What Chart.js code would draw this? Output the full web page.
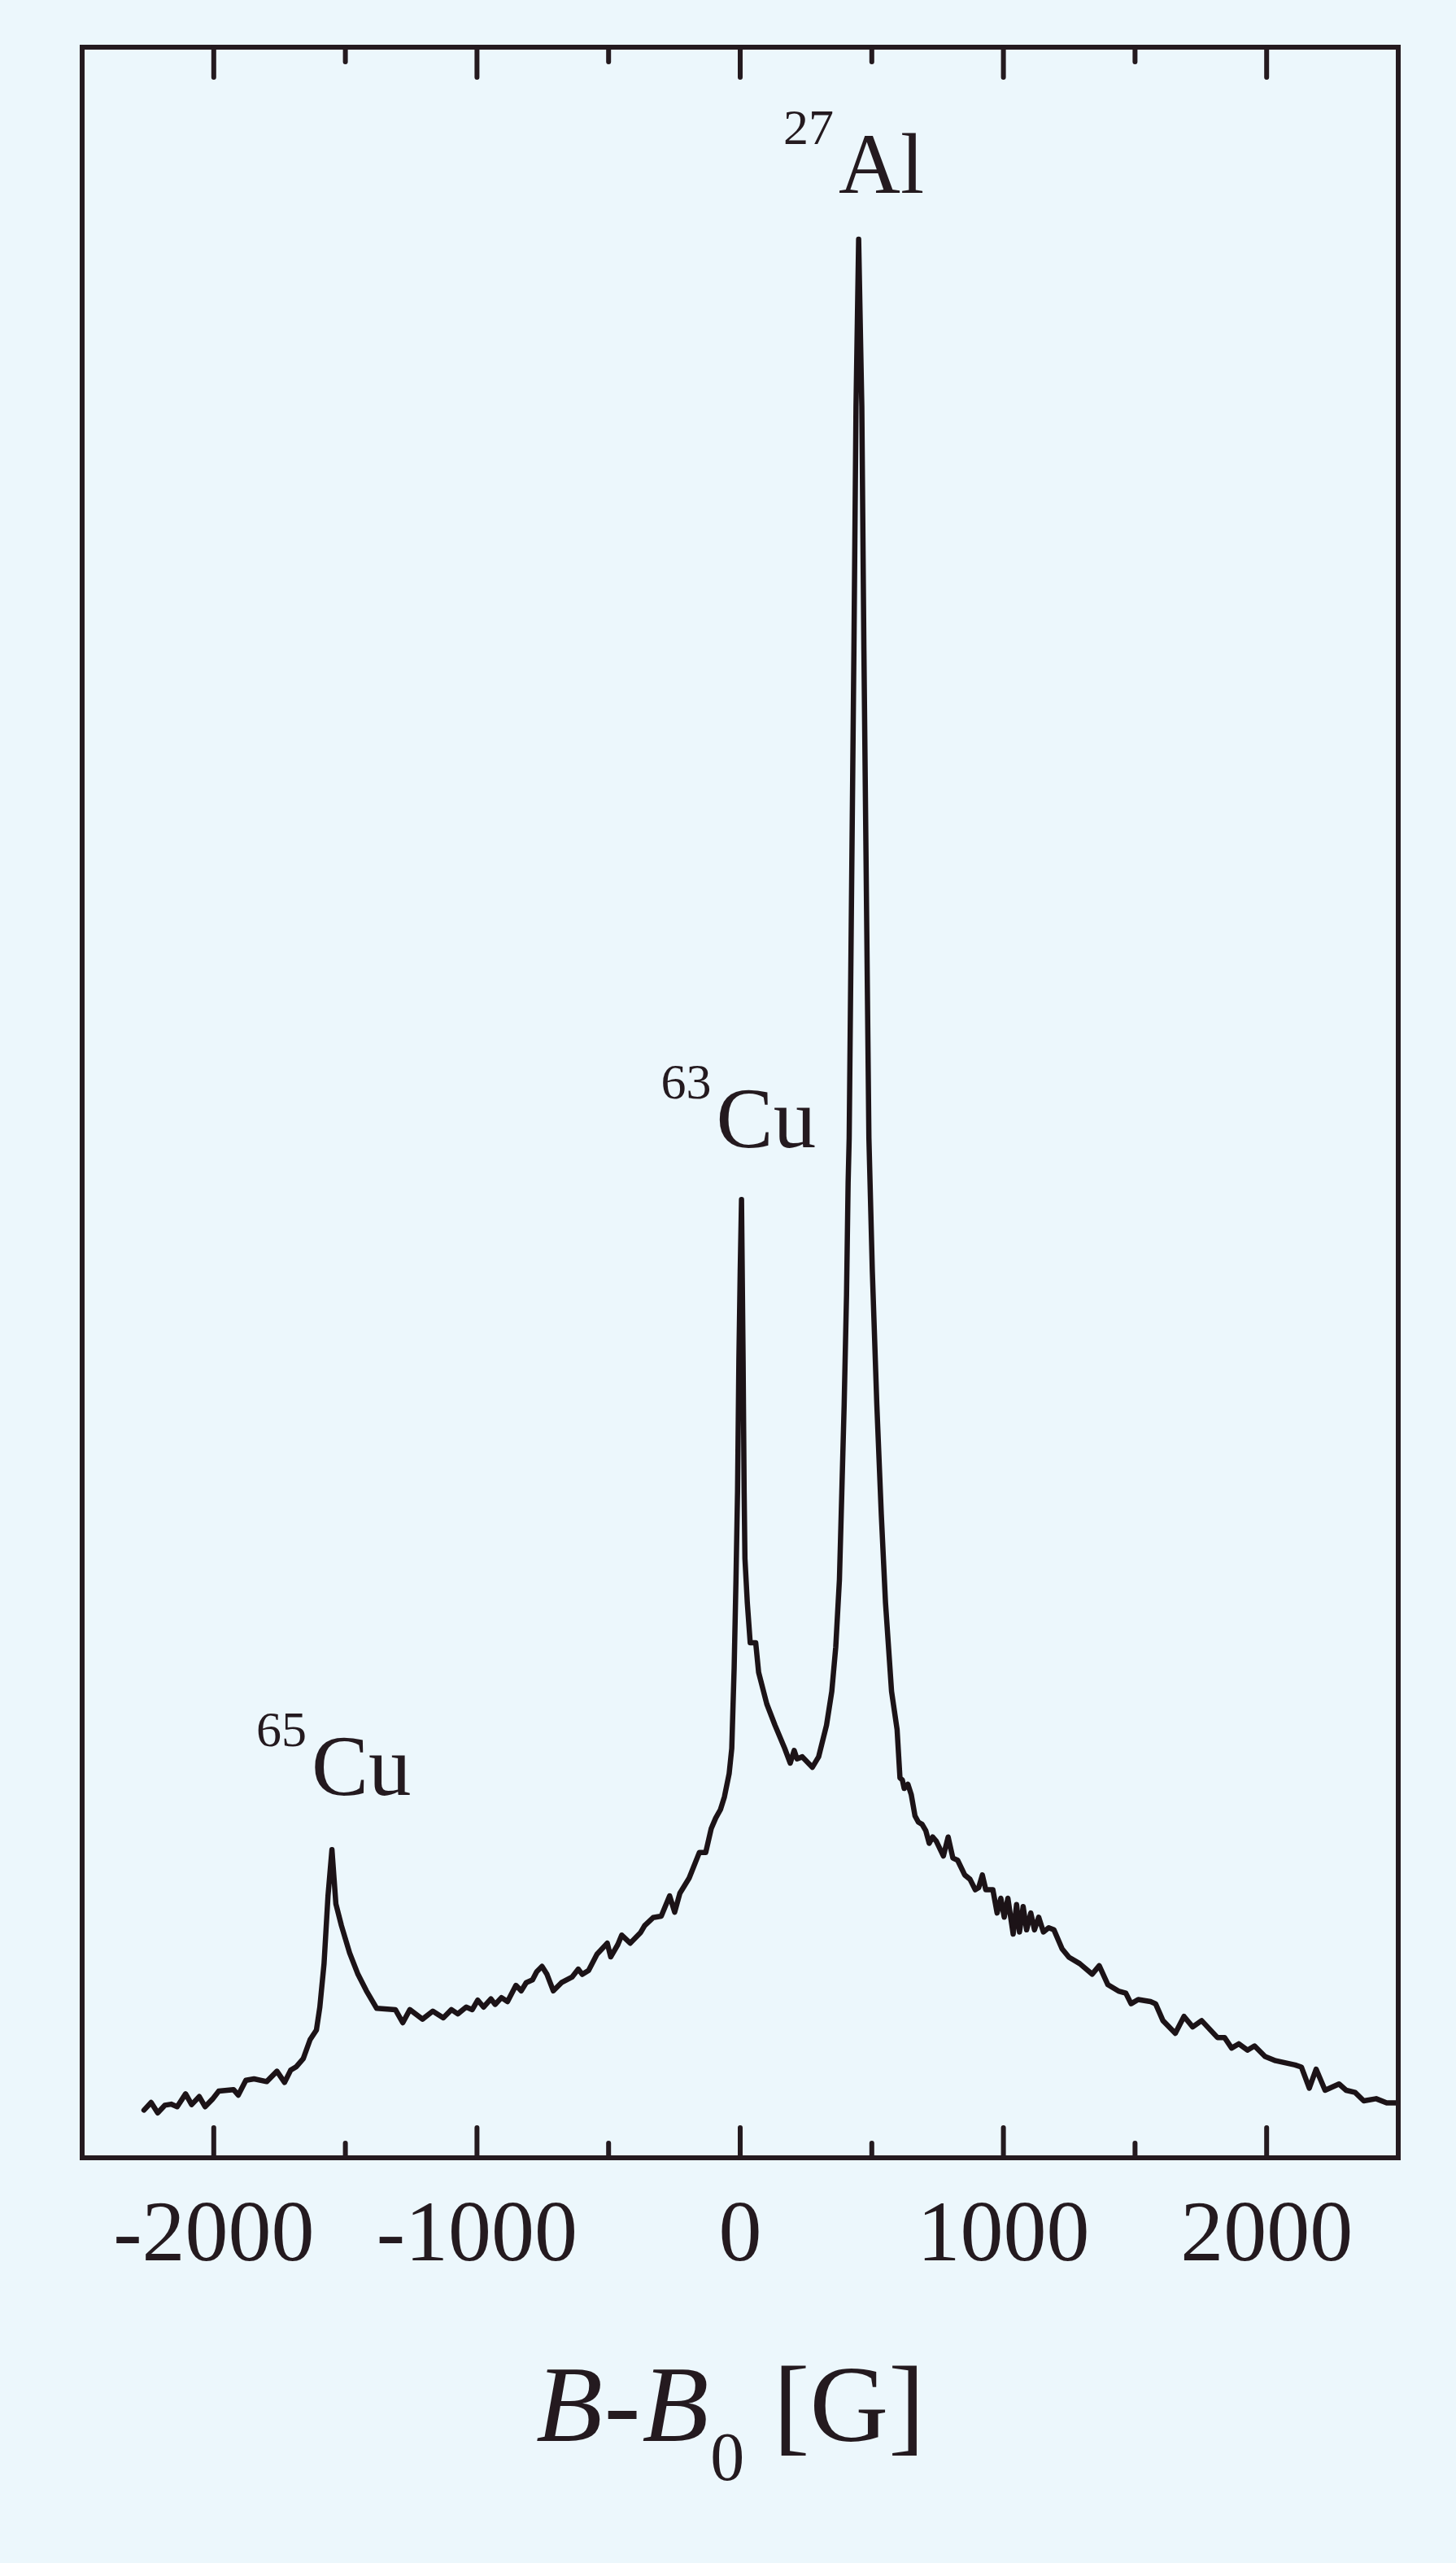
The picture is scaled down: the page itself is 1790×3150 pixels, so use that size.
<!DOCTYPE html>
<html>
<head>
<meta charset="utf-8">
<script src="https://cdn.jsdelivr.net/npm/chart.js@4.4.0/dist/chart.umd.min.js"></script>
<style>
html, body { margin: 0; padding: 0; background: #ecf7fc; }
#wrap { width: 1790px; height: 3150px; }
</style>
</head>
<body>
<div id="wrap"><canvas id="graph" width="1790" height="3150"></canvas></div>
<script>
// spectre RMN : champ B-B0 (G) et intensité (u.a.)
var fieldG = [
  -2265, -2238, -2213, -2186, -2162, -2139, -2107, -2084, -2055, -2033,
  -2005, -1981, -1925, -1907, -1878, -1847, -1799, -1760, -1731, -1708,
  -1686, -1660, -1634, -1610, -1597, -1581, -1566, -1551, -1536, -1515,
  -1484, -1452, -1420, -1381, -1310, -1282, -1255, -1207, -1168, -1128,
  -1097, -1073, -1041, -1018, -997, -975, -947, -931, -907, -884,
  -852, -832, -813, -789, -773, -753, -734, -710, -679, -639,
  -615, -600, -576, -544, -505, -492, -465, -450, -418, -378,
  -363, -331, -300, -268, -249, -229, -194, -155, -131, -110,
  -93, -75, -60, -42, -32, -23, -16, -10, -5, 0,
  5, 11, 15, 18, 27, 38, 59, 70, 101, 132,
  169, 190, 205, 216, 236, 274, 298, 328, 348, 363,
  377, 386, 395, 404, 410, 414, 432, 440, 450, 462,
  470, 489, 502, 519, 536, 552, 575, 596, 607, 616,
  623, 637, 650, 664, 677, 691, 705, 718, 731, 745,
  772, 790, 808, 826, 853, 873, 893, 906, 920, 933,
  960, 976, 990, 1003, 1017, 1037, 1050, 1061, 1075, 1088,
  1104, 1118, 1134, 1152, 1172, 1192, 1223, 1249, 1290, 1337,
  1364, 1397, 1437, 1465, 1485, 1512, 1559, 1578, 1606, 1653,
  1686, 1719, 1753, 1813, 1840, 1867, 1894, 1927, 1954, 1994,
  2034, 2108, 2132, 2162, 2188, 2222, 2275, 2302, 2336, 2369,
  2416, 2456, 2490
];
var intensity = [
  2.26, 2.62, 2.13, 2.49, 2.54, 2.42, 3.03, 2.52, 2.90, 2.42,
  2.78, 3.16, 3.23, 2.97, 3.67, 3.74, 3.61, 4.10, 3.57, 4.15,
  4.32, 4.70, 5.60, 6.05, 7.14, 9.20, 12.41, 14.60, 12.03, 11.00,
  9.71, 8.69, 7.91, 7.08, 7.02, 6.40, 7.02, 6.57, 6.95, 6.63,
  7.02, 6.82, 7.14, 7.02, 7.47, 7.14, 7.53, 7.27, 7.59, 7.40,
  8.17, 7.91, 8.30, 8.43, 8.82, 9.07, 8.69, 7.91, 8.30, 8.56,
  8.94, 8.69, 8.88, 9.65, 10.17, 9.52, 10.10, 10.55, 10.17, 10.68,
  11.00, 11.38, 11.45, 12.41, 11.64, 12.54, 13.25, 14.47, 14.47, 15.6,
  16.1, 16.5, 17.1, 18.2, 19.4, 23.2, 27.4, 31.6, 37.8, 42.0,
  45.4, 37.8, 31.5, 28.4, 26.3, 24.4, 24.4, 23.0, 21.5, 20.5,
  19.4, 18.7, 19.3, 18.9, 19.0, 18.5, 19.0, 20.5, 22.1, 24.2,
  27.4, 31.5, 35.7, 40.9, 46.2, 48.3, 71.4, 83.0, 90.9, 83.0,
  71.4, 48.3, 42.0, 35.7, 30.5, 26.3, 22.1, 20.3, 18.0, 17.9,
  17.5, 17.7, 17.2, 16.2, 15.9, 15.8, 15.5, 14.9, 15.2, 15.0,
  14.3, 15.2, 14.2, 14.1, 13.4, 13.2, 12.7, 12.8, 13.4, 12.7,
  12.7, 11.6, 12.3, 11.4, 12.3, 10.6, 12.0, 10.7, 11.9, 10.8,
  11.6, 10.8, 11.4, 10.7, 10.9, 10.8, 9.9, 9.5, 9.2, 8.7,
  9.1, 8.2, 7.9, 7.8, 7.3, 7.5, 7.4, 7.3, 6.5, 5.9,
  6.7, 6.2, 6.5, 5.7, 5.7, 5.2, 5.4, 5.1, 5.3, 4.8,
  4.6, 4.4, 4.3, 3.3, 4.2, 3.2, 3.5, 3.2, 3.1, 2.7,
  2.8, 2.6, 2.6
];

// graduations de l'axe x
var xTicks = [-2000, -1000, 0, 1000, 2000];
var xTickLabels = ['-2000', '-1000', '0', '1000', '2000'];

// noms des pics (isotope, élément) et position du nombre de masse en (G, u.a.)
var peakIso = ['65', '63', '27'];
var peakEl = ['Cu', 'Cu', 'Al'];
var peakX = [-1839, -301, 164];
var peakY = [19.5, 50.2, 95.4];

var ink = '#241a1f';
var serif = '"Liberation Serif", "DejaVu Serif", serif';

var points = [];
for (let i = 0; i < fieldG.length; i++) {
    points.push({ x: fieldG[i], y: intensity[i] });
}

// cadre, graduations internes, noms des pics et titre de l'axe
const cadre = {
    id: 'cadre',
    afterDraw(chart) {
        const ctx = chart.ctx;
        const a = chart.chartArea;
        const xs = chart.scales.x;
        const ys = chart.scales.y;
        ctx.save();
        ctx.strokeStyle = ink;
        ctx.lineWidth = 6;
        ctx.lineCap = 'round';
        ctx.strokeRect(a.left, a.top, a.right - a.left, a.bottom - a.top);
        for (let v = -2000; v <= 2000; v += 500) {
            const px = xs.getPixelForValue(v);
            const len = v % 1000 === 0 ? 37 : 18;
            ctx.beginPath();
            ctx.moveTo(px, a.top); ctx.lineTo(px, a.top + len);
            ctx.moveTo(px, a.bottom); ctx.lineTo(px, a.bottom - len);
            ctx.stroke();
        }

        ctx.fillStyle = ink;
        ctx.textBaseline = 'alphabetic';
        ctx.textAlign = 'left';
        for (let i = 0; i < peakIso.length; i++) {
            const px = xs.getPixelForValue(peakX[i]);
            const py = ys.getPixelForValue(peakY[i]);
            ctx.font = '62px ' + serif;
            ctx.fillText(peakIso[i], px, py);
            const w = ctx.measureText(peakIso[i]).width;
            ctx.font = '105px ' + serif;
            ctx.fillText(peakEl[i], px + w + 6, py + 60);
        }

        // B-B0 [G]
        let x = 659;
        const y = 3000;
        const parts = [
            ['italic 134px ' + serif, 'B', 0],
            ['134px ' + serif, '-', 0],
            ['italic 134px ' + serif, 'B', 0],
            ['84px ' + serif, '0', 48],
            ['134px ' + serif, ' [G]', 0]
        ];
        parts.forEach(p => {
            ctx.font = p[0];
            ctx.fillText(p[1], x, y + p[2]);
            x += ctx.measureText(p[1]).width + 2;
        });
        ctx.restore();
    }
};

new Chart(document.getElementById('graph'), {
    type: 'line',
    data: {
        datasets: [{
            data: points,
            borderColor: '#1c1317',
            borderWidth: 6.5,
            pointRadius: 0,
            tension: 0,
            fill: false,
            borderJoinStyle: 'round',
            borderCapStyle: 'round'
        }]
    },
    options: {
        responsive: false,
        animation: false,
        devicePixelRatio: 1,
        layout: { padding: { left: 101, right: 71, top: 58, bottom: 0 } },
        plugins: { legend: { display: false }, tooltip: { enabled: false } },
        scales: {
            x: {
                type: 'linear',
                min: -2500,
                max: 2500,
                afterFit: s => { s.height = 3150 - 2652; },
                afterBuildTicks: s => { s.ticks = xTicks.map(v => ({ value: v })); },
                grid: { display: false },
                border: { display: false },
                ticks: {
                    autoSkip: false,
                    maxRotation: 0,
                    padding: 27,
                    color: ink,
                    font: { family: serif, size: 106 },
                    callback: (v, i) => xTickLabels[i]
                }
            },
            y: {
                type: 'linear',
                min: 0,
                max: 100,
                display: false
            }
        }
    },
    plugins: [cadre]
});
</script>
</body>
</html>
